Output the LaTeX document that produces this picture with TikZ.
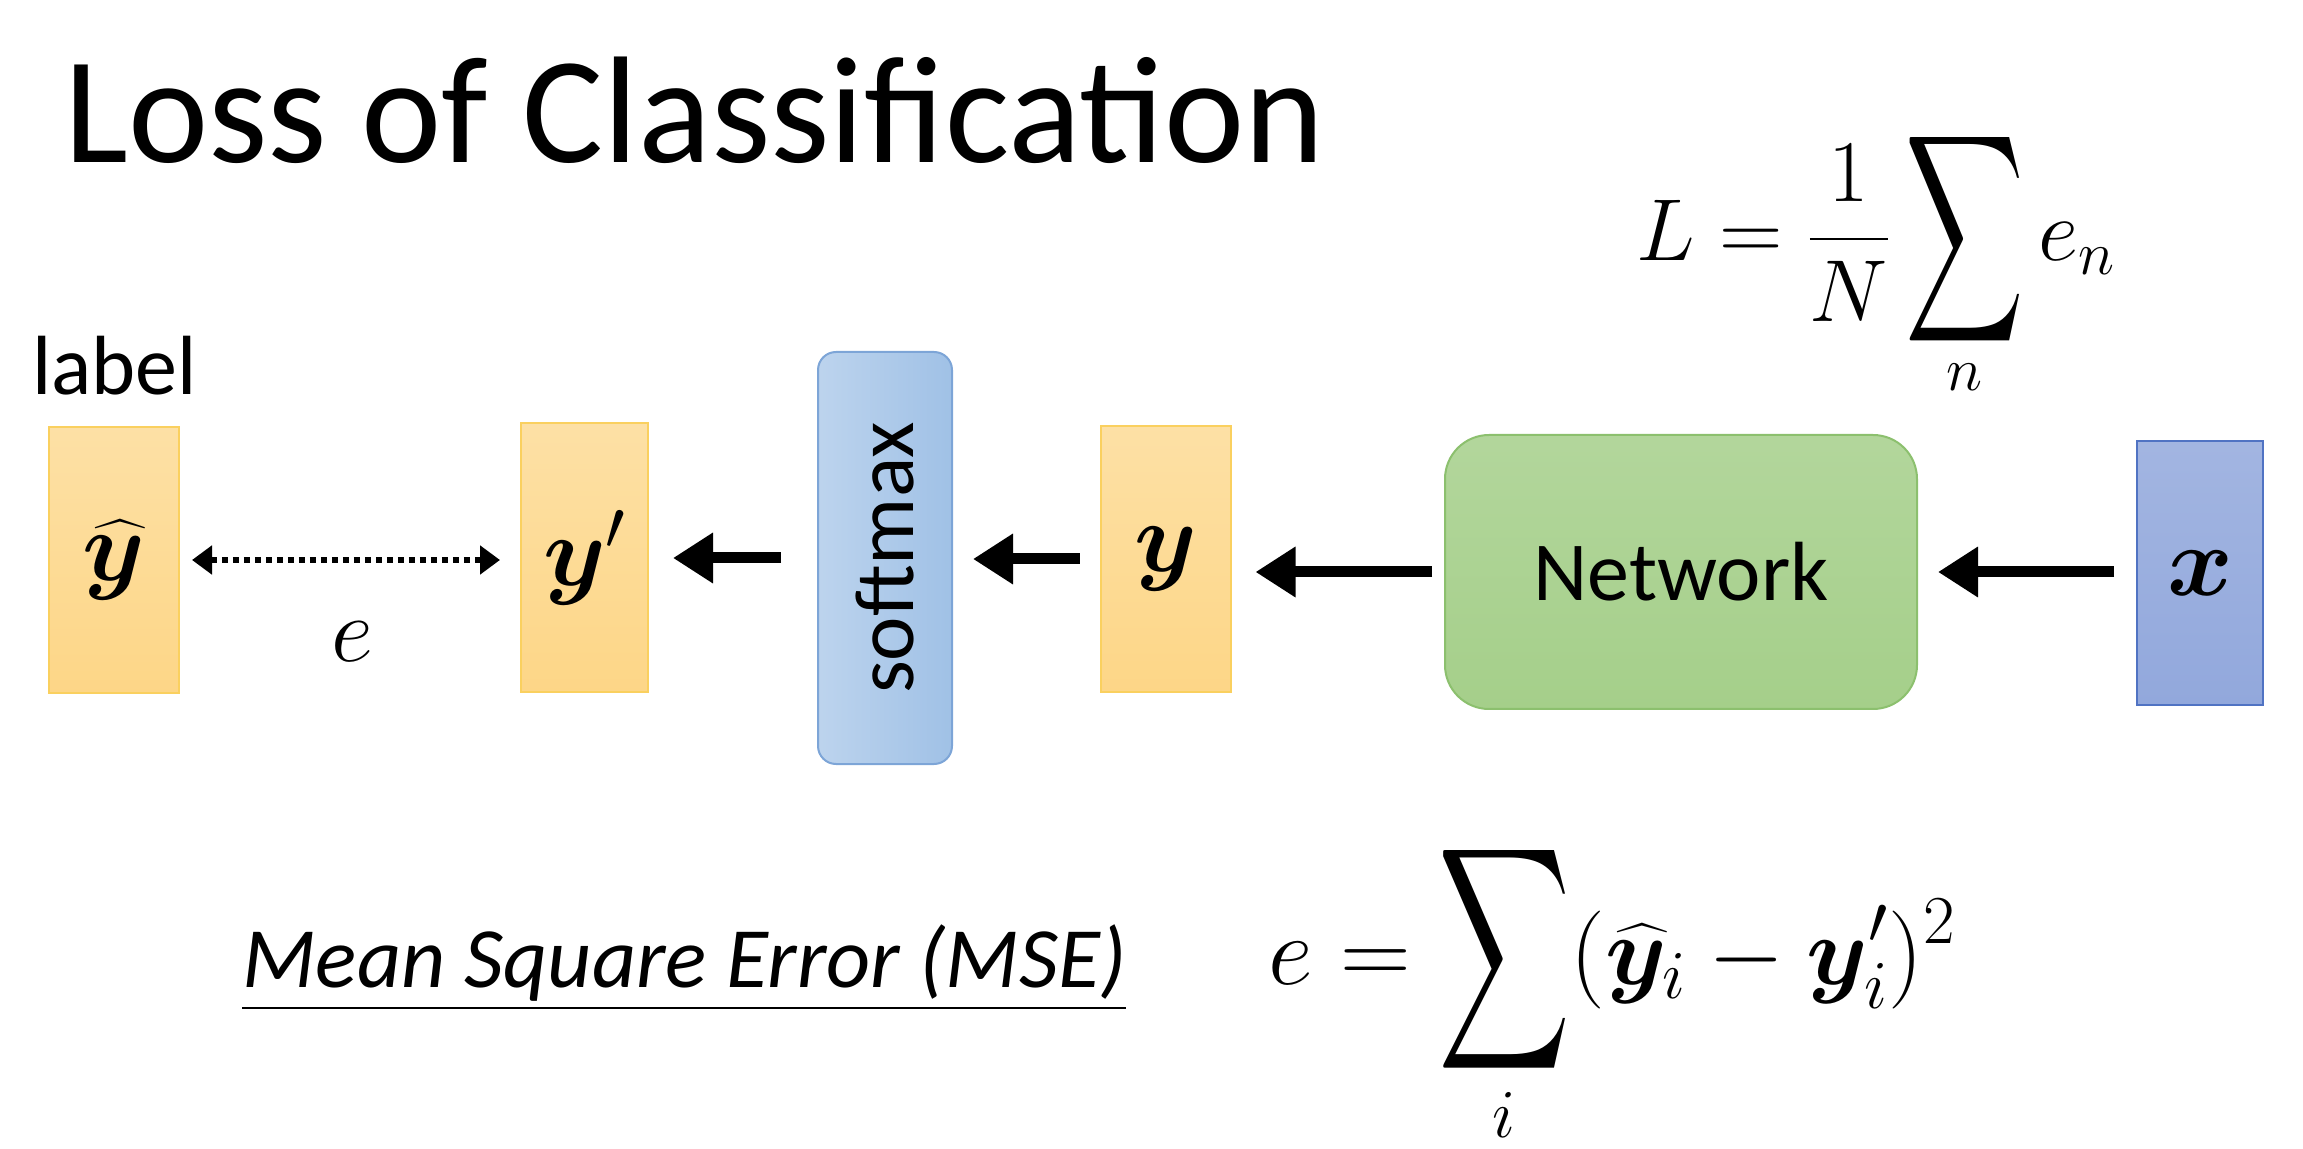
\RequirePackage{fix-cm}
\documentclass[tikz,border=0pt]{standalone}
\usepackage{amsmath,bm}
\usepackage{fontspec}
\setmainfont{Carlito}
\usetikzlibrary{arrows.meta}

\definecolor{orfill}{RGB}{253,214,135}
\definecolor{ordraw}{RGB}{250,208,95}
\definecolor{smfill}{RGB}{160,193,230}
\definecolor{smdraw}{RGB}{125,165,215}
\definecolor{nwfill}{RGB}{165,207,138}
\definecolor{nwdraw}{RGB}{140,192,110}
\definecolor{xfill}{RGB}{146,168,220}
\definecolor{xdraw}{RGB}{80,115,195}

\newcommand{\Bsum}{\mathop{\vcenter{\hbox{\resizebox{1.35em}{2.05em}{$\displaystyle\sum$}}}}\limits}

\tikzset{
  vecbox/.style={draw=ordraw, line width=1pt, top color=orfill!75, bottom color=orfill, minimum width=65pt, minimum height=133pt, inner sep=0pt, font=\fontsize{50}{54}\selectfont},
  fatarrow/.style={line width=5.5pt, -{Triangle[length=20pt,width=24pt]}},
  dotarrow/.style={line width=3pt, dash pattern=on 3pt off 2.5pt, {Triangle[length=10pt,width=14pt]}-{Triangle[length=10pt,width=14pt]}}
}

\begin{document}
\begin{tikzpicture}[x=0.5pt,y=0.5pt,yscale=-1]
\useasboundingbox (0,0) rectangle (2303,1149);

% title and total loss
\node[anchor=base west, inner sep=0pt, font=\fontsize{76}{82}\selectfont] (title) at (64,163) {Loss of Classification};
\node[anchor=base, inner sep=0pt, font=\fontsize{44}{48}\selectfont] (Lsum) at (1876,261) {$\displaystyle L=\frac{1}{N}\Bsum_{n} e_n$};

% boxes
\node[vecbox] (yhat) at (114,560) {$\widehat{\bm{y}}$};
\node[anchor=base west, inner sep=0pt, font=\fontsize{42}{46}\selectfont] (label) at (32,395) {label};
\node[vecbox, minimum width=63.5pt, minimum height=134.5pt] (yprime) at (584.5,557.5) {$\bm{y}'$};
\node[draw=smdraw, line width=1pt, left color=smfill!70, right color=smfill, rounded corners=9pt, rotate=90, minimum width=206pt, minimum height=67pt, inner sep=0pt, font=\fontsize{42}{46}\selectfont] (soft) at (885,558) {softmax};
\node[vecbox] (yout) at (1165.5,559) {$\bm{y}$};
\node[draw=nwdraw, line width=1pt, top color=nwfill!85, bottom color=nwfill, rounded corners=22pt, minimum width=236pt, minimum height=137pt, inner sep=0pt, font=\fontsize{42}{46}\selectfont] (net) at (1681,572) {Network};
\node[draw=xdraw, line width=1pt, top color=xfill!85, bottom color=xfill, minimum width=63pt, minimum height=132pt, inner sep=0pt, font=\fontsize{50}{54}\selectfont] (xin) at (2200,573) {$\bm{x}$};

% arrows
\draw[fatarrow, shorten <=11pt, shorten >=10pt] (net.east -| xin.west) -- (net.east);
\draw[fatarrow, shorten <=6pt, shorten >=12pt] (net.west) -- (net.west -| yout.east);
\draw[fatarrow, shorten <=10pt, shorten >=10pt] (yout.west) -- (yout.west -| soft.south);
\draw[fatarrow, shorten <=18pt, shorten >=12pt] (soft.north) -- (soft.north -| yprime.east);
\draw[dotarrow, shorten <=6pt, shorten >=10pt] (yhat.east) -- (yhat.east -| yprime.west);
\node[inner sep=0pt, font=\fontsize{46}{50}\selectfont] (err) at (352,642) {$e$};

% MSE
\node[anchor=base west, inner sep=0pt, font=\itshape\fontsize{43}{47}\selectfont] (mse) at (242,987) {\underline{Mean Square Error (MSE)}};
\node[anchor=base, inner sep=0pt, font=\fontsize{49}{53}\selectfont] (eform) at (1612,984) {$\displaystyle e=\Bsum_{i}(\widehat{\bm{y}}_i-\bm{y}'_i)^2$};

\end{tikzpicture}
\end{document}
